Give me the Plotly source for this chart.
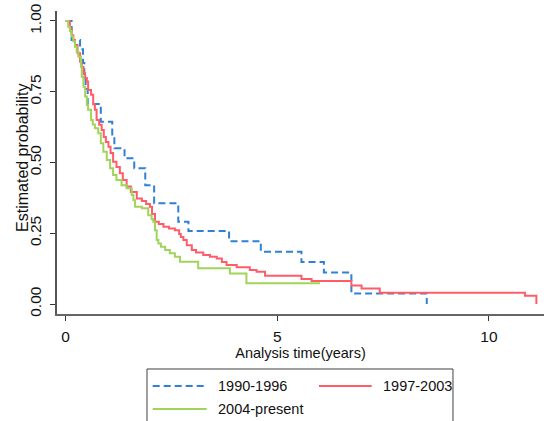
import plotly.graph_objects as go

# Kaplan-Meier survival estimates by diagnosis period (time in years)
t_1990 = [0, 0.14, 0.34, 0.41, 0.44, 0.47, 0.52, 0.83, 1.10, 1.15, 1.39, 1.62,
          1.88, 2.09, 2.66, 2.90, 3.86, 4.61, 5.57, 6.10, 6.75, 8.53]
s_1990 = [1.0, 0.933, 0.90, 0.852, 0.80, 0.76, 0.707, 0.644, 0.593, 0.55, 0.515, 0.48,
          0.42, 0.356, 0.291, 0.258, 0.222, 0.185, 0.148, 0.111, 0.037, 0.0]

t_1997 = [0, 0.10, 0.14, 0.18, 0.22, 0.28, 0.34, 0.38, 0.42, 0.46, 0.50, 0.53,
          0.60, 0.65, 0.69, 0.73, 0.79, 0.85, 0.90, 0.95, 1.01, 1.06, 1.12, 1.20,
          1.28, 1.35, 1.44, 1.54, 1.68, 1.80, 1.90, 1.99, 2.04, 2.11, 2.20, 2.31,
          2.44, 2.58, 2.68, 2.72, 2.78, 2.86, 2.98, 3.08, 3.25, 3.41, 3.57, 3.69,
          3.80, 4.04, 4.35, 4.51, 4.71, 5.57, 5.81, 6.75, 6.99, 7.42, 10.85, 11.12]
s_1997 = [1.0, 0.974, 0.95, 0.933, 0.915, 0.886, 0.856, 0.837, 0.815, 0.799, 0.786, 0.756,
          0.739, 0.706, 0.686, 0.65, 0.633, 0.615, 0.59, 0.572, 0.556, 0.534, 0.503, 0.484,
          0.462, 0.438, 0.415, 0.396, 0.373, 0.364, 0.353, 0.344, 0.318, 0.291, 0.283, 0.273,
          0.267, 0.261, 0.247, 0.237, 0.226, 0.208, 0.191, 0.182, 0.173, 0.167, 0.161, 0.148,
          0.138, 0.130, 0.120, 0.114, 0.100, 0.088, 0.081, 0.065, 0.055, 0.040, 0.029, 0.0]

t_2004 = [0, 0.06, 0.10, 0.14, 0.18, 0.22, 0.26, 0.30, 0.36, 0.38, 0.42, 0.46,
          0.50, 0.53, 0.60, 0.64, 0.69, 0.77, 0.83, 0.89, 0.97, 1.05, 1.12, 1.20,
          1.32, 1.44, 1.56, 1.60, 1.64, 1.80, 1.95, 2.03, 2.07, 2.11, 2.15, 2.19,
          2.25, 2.35, 2.46, 2.58, 2.70, 3.13, 3.88, 4.27, 6.01]
s_2004 = [1.0, 0.98, 0.965, 0.945, 0.928, 0.909, 0.892, 0.874, 0.839, 0.803, 0.768, 0.733,
          0.703, 0.686, 0.65, 0.634, 0.621, 0.603, 0.568, 0.538, 0.509, 0.48, 0.456, 0.438,
          0.42, 0.409, 0.385, 0.367, 0.344, 0.338, 0.314, 0.300, 0.291, 0.261, 0.226, 0.214,
          0.202, 0.191, 0.179, 0.167, 0.149, 0.126, 0.108, 0.073, 0.073]

names = ["1990-1996", "1997-2003", "2004-present"]
colors = ["#2f80d6", "#ff5c6a", "#a0d45a"]
dashes = ["7px,4px", "solid", "solid"]

x_ticks = [0, 5, 10]
y_ticks = [0, 0.25, 0.5, 0.75, 1.0]
y_tick_text = ["0.00", "0.25", "0.50", "0.75", "1.00"]

FONT = "Liberation Sans, Arial, sans-serif"

fig = go.Figure()
for t, s, name, color, dash in zip([t_1990, t_1997, t_2004], [s_1990, s_1997, s_2004],
                                    names, colors, dashes):
    fig.add_trace(go.Scatter(
        x=t, y=s, mode="lines", name=name, line_shape="hv",
        line=dict(color=color, width=2, dash=dash), showlegend=False,
    ))

# Boxed legend below the axes, two columns
L_LEFT, L_RIGHT, L_TOP, L_BOTTOM = 0.1848, 0.8131, -0.1815, -0.42
fig.add_shape(type="rect", xref="paper", yref="paper",
              x0=L_LEFT, x1=L_RIGHT, y0=L_BOTTOM, y1=L_TOP,
              line=dict(color="#404040", width=1), fillcolor="white")
legend_slots = [(0.1965, 0.3074, 0.3265, -0.2376),
                (0.5380, 0.6462, 0.6653, -0.2376),
                (0.1965, 0.3074, 0.3265, -0.3135)]
for (lx0, lx1, tx, ly), name, color, dash in zip(legend_slots, names, colors, dashes):
    fig.add_shape(type="line", xref="paper", yref="paper",
                  x0=lx0, x1=lx1, y0=ly, y1=ly,
                  line=dict(color=color, width=2, dash=dash))
    fig.add_annotation(xref="paper", yref="paper", x=tx, y=ly, text=name,
                       showarrow=False, xanchor="left", yanchor="middle",
                       font=dict(family=FONT, size=14.5, color="#111111"))

# Vertical y-axis title set close to the tick labels
fig.add_annotation(xref="paper", yref="paper", x=-0.0698, y=0.515,
                   text="Estimated probability", textangle=-90, showarrow=False,
                   xanchor="center", yanchor="middle",
                   font=dict(family=FONT, size=16, color="#111111"))

fig.update_layout(
    width=544, height=421,
    margin=dict(l=57, r=0, t=11, b=107),
    plot_bgcolor="white", paper_bgcolor="white",
    font=dict(family=FONT, size=15.5, color="#111111"),
    xaxis=dict(
        range=[-0.205, 11.30], tickvals=x_ticks, ticks="outside", ticklen=5,
        tickcolor="#333333", showline=True, linecolor="#666666", linewidth=2,
        showgrid=False, zeroline=False, ticklabelstandoff=2,
        tickfont=dict(family=FONT, size=15.5),
        title=dict(text="Analysis time(years)", standoff=2,
                   font=dict(family=FONT, size=14.5)),
    ),
    yaxis=dict(
        range=[-0.0353, 1.0353], tickvals=y_ticks, ticktext=y_tick_text,
        tickangle=-90, ticks="outside", ticklen=5, tickcolor="#333333",
        showline=True, linecolor="#555555", linewidth=2,
        showgrid=False, zeroline=False, ticklabelstandoff=3,
        tickfont=dict(family=FONT, size=15.5),
    ),
)

fig.write_html("out.html")
